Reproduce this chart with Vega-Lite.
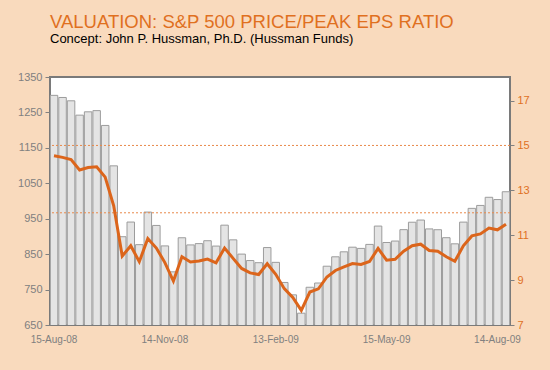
{
  "$schema": "https://vega.github.io/schema/vega-lite/v6.json",
  "width": 460,
  "height": 248,
  "autosize": "none",
  "padding": {"left": 50, "top": 77, "right": 40, "bottom": 45},
  "background": "#F9DABD",
  "title": {
    "text": "VALUATION: S&P 500 PRICE/PEAK EPS RATIO",
    "subtitle": "Concept: John P. Hussman, Ph.D. (Hussman Funds)",
    "anchor": "start",
    "frame": "group",
    "font": "Liberation Sans",
    "fontSize": 18.5,
    "fontWeight": "normal",
    "color": "#E0701F",
    "subtitleFont": "Liberation Sans",
    "subtitleFontSize": 13,
    "subtitleColor": "#000000",
    "subtitlePadding": 2,
    "offset": 25
  },
  "config": {
    "view": {"stroke": "#7a7a7a", "strokeWidth": 2, "fill": "#ffffff"},
    "axis": {"grid": false, "labelFont": "Liberation Sans"}
  },
  "data": {
    "values": [
      {"date": "15-Aug-08", "price": 1298.20, "ratio": 14.54},
      {"date": "22-Aug-08", "price": 1292.20, "ratio": 14.47},
      {"date": "29-Aug-08", "price": 1282.83, "ratio": 14.37},
      {"date": "05-Sep-08", "price": 1242.31, "ratio": 13.91},
      {"date": "12-Sep-08", "price": 1251.70, "ratio": 14.02},
      {"date": "19-Sep-08", "price": 1255.08, "ratio": 14.05},
      {"date": "26-Sep-08", "price": 1213.27, "ratio": 13.59},
      {"date": "03-Oct-08", "price": 1099.23, "ratio": 12.31},
      {"date": "10-Oct-08", "price": 899.22, "ratio": 10.07},
      {"date": "17-Oct-08", "price": 940.55, "ratio": 10.53},
      {"date": "24-Oct-08", "price": 876.77, "ratio": 9.82},
      {"date": "31-Oct-08", "price": 968.75, "ratio": 10.85},
      {"date": "07-Nov-08", "price": 930.99, "ratio": 10.43},
      {"date": "14-Nov-08", "price": 873.29, "ratio": 9.78},
      {"date": "21-Nov-08", "price": 800.03, "ratio": 8.96},
      {"date": "28-Nov-08", "price": 896.24, "ratio": 10.04},
      {"date": "05-Dec-08", "price": 876.07, "ratio": 9.81},
      {"date": "12-Dec-08", "price": 879.73, "ratio": 9.85},
      {"date": "19-Dec-08", "price": 887.88, "ratio": 9.94},
      {"date": "26-Dec-08", "price": 872.80, "ratio": 9.77},
      {"date": "02-Jan-09", "price": 931.80, "ratio": 10.43},
      {"date": "09-Jan-09", "price": 890.35, "ratio": 9.97},
      {"date": "16-Jan-09", "price": 850.12, "ratio": 9.52},
      {"date": "23-Jan-09", "price": 831.95, "ratio": 9.32},
      {"date": "30-Jan-09", "price": 825.88, "ratio": 9.25},
      {"date": "06-Feb-09", "price": 868.60, "ratio": 9.73},
      {"date": "13-Feb-09", "price": 826.84, "ratio": 9.26},
      {"date": "20-Feb-09", "price": 770.05, "ratio": 8.62},
      {"date": "27-Feb-09", "price": 735.09, "ratio": 8.23},
      {"date": "06-Mar-09", "price": 683.38, "ratio": 7.65},
      {"date": "13-Mar-09", "price": 756.55, "ratio": 8.47},
      {"date": "20-Mar-09", "price": 768.54, "ratio": 8.61},
      {"date": "27-Mar-09", "price": 815.94, "ratio": 9.14},
      {"date": "03-Apr-09", "price": 842.50, "ratio": 9.43},
      {"date": "10-Apr-09", "price": 856.56, "ratio": 9.59},
      {"date": "17-Apr-09", "price": 869.60, "ratio": 9.74},
      {"date": "24-Apr-09", "price": 866.23, "ratio": 9.70},
      {"date": "01-May-09", "price": 877.52, "ratio": 9.83},
      {"date": "08-May-09", "price": 929.23, "ratio": 10.41},
      {"date": "15-May-09", "price": 882.88, "ratio": 9.89},
      {"date": "22-May-09", "price": 887.00, "ratio": 9.93},
      {"date": "29-May-09", "price": 919.14, "ratio": 10.29},
      {"date": "05-Jun-09", "price": 940.09, "ratio": 10.53},
      {"date": "12-Jun-09", "price": 946.21, "ratio": 10.60},
      {"date": "19-Jun-09", "price": 921.23, "ratio": 10.32},
      {"date": "26-Jun-09", "price": 918.90, "ratio": 10.29},
      {"date": "03-Jul-09", "price": 896.42, "ratio": 10.04},
      {"date": "10-Jul-09", "price": 879.13, "ratio": 9.84},
      {"date": "17-Jul-09", "price": 940.38, "ratio": 10.53},
      {"date": "24-Jul-09", "price": 979.26, "ratio": 10.97},
      {"date": "31-Jul-09", "price": 987.48, "ratio": 11.06},
      {"date": "07-Aug-09", "price": 1010.48, "ratio": 11.32},
      {"date": "14-Aug-09", "price": 1004.09, "ratio": 11.24},
      {"date": "21-Aug-09", "price": 1026.13, "ratio": 11.49}
    ]
  },
  "layer": [
    {
      "mark": {"type": "bar", "fill": "#e4e4e4", "stroke": "#9c9c9c", "strokeWidth": 1, "clip": true},
      "encoding": {
        "x": {
          "field": "date", "type": "nominal", "sort": null,
          "scale": {"paddingInner": 0.12, "paddingOuter": 0.03},
          "axis": {
            "values": ["15-Aug-08", "14-Nov-08", "13-Feb-09", "15-May-09", "14-Aug-09"],
            "labelAngle": 0, "ticks": false, "domain": false,
            "labelColor": "#808080", "labelFontSize": 10, "labelPadding": 9, "title": null
          }
        },
        "y": {
          "field": "price", "type": "quantitative",
          "scale": {"domain": [650, 1350], "zero": false, "nice": false},
          "axis": {
            "orient": "left", "values": [650, 750, 850, 950, 1050, 1150, 1250, 1350], "format": "d",
            "title": null, "labelColor": "#808080", "labelFontSize": 11,
            "tickColor": "#808080", "tickSize": 5, "domain": false, "labelPadding": 3
          }
        }
      }
    },
    {
      "layer": [
        {
          "data": {"values": [{"ref": 12}, {"ref": 15}]},
          "mark": {"type": "rule", "stroke": "#E8894A", "strokeDash": [2, 2], "strokeWidth": 1},
          "encoding": {
            "y": {
              "field": "ref", "type": "quantitative",
              "scale": {"domain": [7, 18.05], "zero": false, "nice": false},
              "axis": {
                "orient": "right", "values": [7, 9, 11, 13, 15, 17],
                "title": null, "labelColor": "#E0701F", "labelFontSize": 11,
                "tickColor": "#808080", "tickSize": 4, "domain": false, "labelPadding": 3
              }
            }
          }
        },
        {
          "mark": {"type": "line", "color": "#DC651B", "strokeWidth": 3},
          "encoding": {
            "x": {
              "field": "date", "type": "nominal", "sort": null,
              "axis": {
                "values": ["15-Aug-08", "14-Nov-08", "13-Feb-09", "15-May-09", "14-Aug-09"],
                "labelAngle": 0, "ticks": false, "domain": false,
                "labelColor": "#808080", "labelFontSize": 10, "labelPadding": 9, "title": null
              }
            },
            "y": {
              "field": "ratio", "type": "quantitative",
              "scale": {"domain": [7, 18.05], "zero": false, "nice": false},
              "axis": {
                "orient": "right", "values": [7, 9, 11, 13, 15, 17],
                "title": null, "labelColor": "#E0701F", "labelFontSize": 11,
                "tickColor": "#808080", "tickSize": 4, "domain": false, "labelPadding": 3
              }
            }
          }
        }
      ]
    }
  ],
  "resolve": {"scale": {"y": "independent"}}
}
